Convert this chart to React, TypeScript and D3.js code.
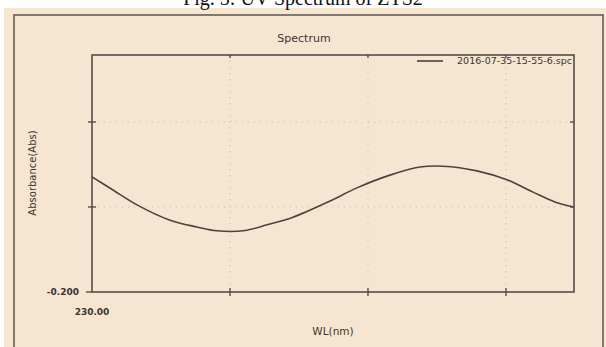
import React, { useEffect, useRef } from "react";
import * as d3 from "d3";

// spectrum
const wavelengths = [230, 245.2, 262.6, 286.5, 306.1, 320.6, 339.4, 356.8, 375.7, 402.5, 422.0, 445.9, 467.7, 484.3, 509.0, 530.7, 549.6, 565.5, 579.3];
const absorbance = [0.071, 0.04, 0.005, -0.031, -0.047, -0.056, -0.056, -0.042, -0.024, 0.014, 0.045, 0.075, 0.094, 0.096, 0.085, 0.064, 0.035, 0.012, 0.0];

const xTicks = [230, 330, 430, 530];
const yTicks = [-0.2, 0, 0.2];
const xTickLabels = ["230.00", "", "", ""];
const yTickLabels = ["-0.200", "", ""];
const seriesName = "2016-07-35-15-55-6.spc";

const App = () => {
  const ref = useRef<SVGSVGElement>(null);

  useEffect(() => {
    const svg = d3.select(ref.current);
    svg.selectAll("*").remove();

    const left = 92, right = 574, top = 55, bottom = 292;
    const x = d3.scaleLinear().domain([230, 579.3]).range([left, right]);
    const y = d3.scaleLinear().domain([-0.2, 0.3576]).range([bottom, top]);
    const ink = "#4a4440";
    const font = "DejaVu Sans, sans-serif";

    // paper
    svg.append("rect").attr("width", 606).attr("height", 347).attr("fill", "#ffffff");
    svg.append("rect").attr("x", 4).attr("y", 8).attr("width", 602).attr("height", 339).attr("fill", "#f6e5d1");

    // caption, cut off at the top like in the scan
    svg.append("text")
      .attr("x", 303).attr("y", 5)
      .attr("text-anchor", "middle")
      .style("font-family", "Liberation Serif, serif")
      .style("font-size", "20px")
      .attr("fill", "#111")
      .text("Fig. 5: UV Spectrum of ZTS2");

    // outer frame
    svg.append("path")
      .attr("d", "M14,347 V15 H603 V347")
      .attr("fill", "none").attr("stroke", "#5a5550").attr("stroke-width", 1.5);

    // grid
    const g = svg.append("g");
    g.selectAll(".gx").data(xTicks.slice(1)).join("line")
      .attr("x1", (d) => x(d)).attr("x2", (d) => x(d))
      .attr("y1", top).attr("y2", bottom)
      .attr("stroke", "#c9b9a8").attr("stroke-dasharray", "1,5");
    g.selectAll(".gy").data(yTicks.slice(1)).join("line")
      .attr("y1", (d) => y(d)).attr("y2", (d) => y(d))
      .attr("x1", left).attr("x2", right)
      .attr("stroke", "#c9b9a8").attr("stroke-dasharray", "1,5");

    // plot frame
    svg.append("rect")
      .attr("x", left).attr("y", top)
      .attr("width", right - left).attr("height", bottom - top)
      .attr("fill", "none").attr("stroke", ink).attr("stroke-width", 1.5);

    // ticks on all sides
    xTicks.slice(1).forEach((t) => {
      svg.append("line").attr("x1", x(t)).attr("x2", x(t)).attr("y1", bottom - 4).attr("y2", bottom + 4).attr("stroke", ink).attr("stroke-width", 1.3);
      svg.append("line").attr("x1", x(t)).attr("x2", x(t)).attr("y1", top).attr("y2", top + 3).attr("stroke", ink).attr("stroke-width", 1.3);
    });
    yTicks.slice(1).forEach((t) => {
      if (y(t) < top) return;
      svg.append("line").attr("x1", left - 4).attr("x2", left + 4).attr("y1", y(t)).attr("y2", y(t)).attr("stroke", ink).attr("stroke-width", 1.3);
      svg.append("line").attr("x1", right - 4).attr("x2", right).attr("y1", y(t)).attr("y2", y(t)).attr("stroke", ink).attr("stroke-width", 1.3);
    });
    svg.append("line").attr("x1", left - 6).attr("x2", left).attr("y1", bottom).attr("y2", bottom).attr("stroke", ink).attr("stroke-width", 1.3);

    // tick labels
    xTicks.forEach((t, i) => {
      if (!xTickLabels[i]) return;
      svg.append("text").attr("x", x(t)).attr("y", bottom + 23)
        .attr("text-anchor", "middle").style("font-family", font).style("font-size", "9px")
        .style("font-weight", "bold").attr("fill", "#3a3532").text(xTickLabels[i]);
    });
    yTicks.forEach((t, i) => {
      if (!yTickLabels[i]) return;
      svg.append("text").attr("x", left - 13).attr("y", y(t) + 3)
        .attr("text-anchor", "end").style("font-family", font).style("font-size", "9px")
        .style("font-weight", "bold").attr("fill", "#3a3532").text(yTickLabels[i]);
    });

    // spectrum
    const pts = wavelengths.map((w, i) => [w, absorbance[i]] as [number, number]);
    svg.append("path")
      .attr("d", d3.line<[number, number]>().x((d) => x(d[0])).y((d) => y(d[1])).curve(d3.curveCatmullRom)(pts))
      .attr("fill", "none").attr("stroke", ink).attr("stroke-width", 1.6);

    // titles
    svg.append("text").attr("x", 304).attr("y", 42)
      .attr("text-anchor", "middle").style("font-family", font).style("font-size", "11px")
      .attr("fill", "#3a3532").text("Spectrum");
    svg.append("text").attr("x", 333).attr("y", 335)
      .attr("text-anchor", "middle").style("font-family", font).style("font-size", "10.5px")
      .attr("fill", "#3a3532").text("WL(nm)");
    svg.append("text")
      .attr("transform", "translate(36,173) rotate(-90)")
      .attr("text-anchor", "middle").style("font-family", font).style("font-size", "10px")
      .attr("fill", "#3a3532").text("Absorbance(Abs)");

    // legend
    svg.append("line").attr("x1", 417).attr("x2", 443).attr("y1", 61).attr("y2", 61)
      .attr("stroke", ink).attr("stroke-width", 1.6);
    svg.append("text").attr("x", 572).attr("y", 64)
      .attr("text-anchor", "end").style("font-family", font).style("font-size", "9.5px")
      .attr("fill", "#3a3532").text(seriesName);
  }, []);

  return (
    <svg ref={ref} width={606} height={347} style={{ position: "absolute", left: 0, top: 0 }} />
  );
};

export default App;
